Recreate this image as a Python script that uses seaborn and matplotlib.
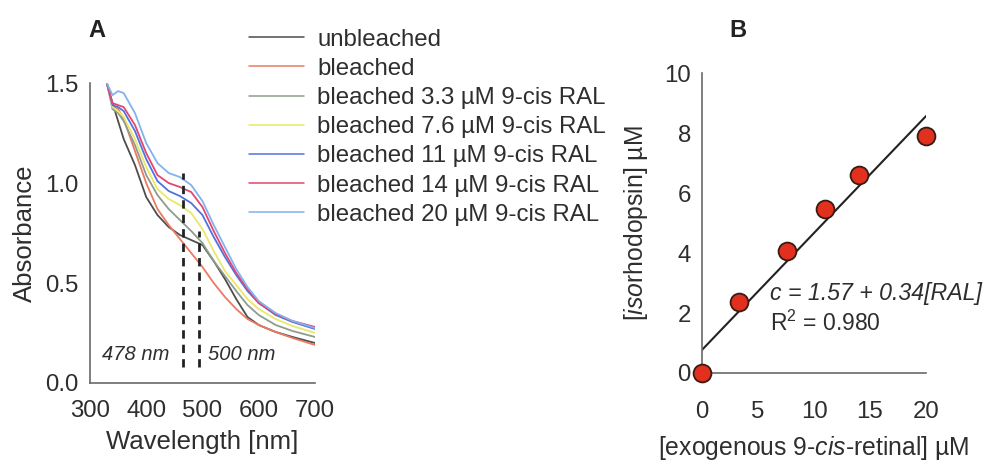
import numpy as np
import pandas as pd
import seaborn as sns
import matplotlib.pyplot as plt

# ______________________________________________________ DATA
wavelength = [330, 340, 350, 360, 380, 400, 420, 440, 460, 480, 500, 520, 540, 560, 580, 600, 630, 660, 700]

unbleached = [1.50, 1.40, 1.31, 1.22, 1.09, 0.93, 0.84, 0.78, 0.74, 0.715, 0.69, 0.61, 0.52, 0.42, 0.33, 0.29, 0.255, 0.23, 0.20]
bleached = [1.50, 1.39, 1.37, 1.32, 1.16, 1.00, 0.87, 0.79, 0.72, 0.65, 0.58, 0.50, 0.43, 0.37, 0.32, 0.29, 0.255, 0.225, 0.19]
ral_3_3 = [1.50, 1.37, 1.35, 1.31, 1.19, 1.04, 0.94, 0.87, 0.815, 0.76, 0.70, 0.61, 0.535, 0.46, 0.39, 0.34, 0.29, 0.26, 0.23]
ral_7_6 = [1.50, 1.38, 1.36, 1.33, 1.22, 1.08, 0.97, 0.92, 0.89, 0.85, 0.77, 0.66, 0.56, 0.49, 0.42, 0.37, 0.32, 0.285, 0.25]
ral_11 = [1.50, 1.39, 1.38, 1.36, 1.26, 1.12, 1.01, 0.96, 0.935, 0.90, 0.84, 0.73, 0.63, 0.54, 0.46, 0.40, 0.34, 0.305, 0.27]
ral_14 = [1.50, 1.40, 1.39, 1.38, 1.29, 1.15, 1.04, 1.00, 0.98, 0.955, 0.88, 0.76, 0.65, 0.55, 0.47, 0.40, 0.345, 0.31, 0.28]
ral_20 = [1.50, 1.44, 1.46, 1.45, 1.35, 1.20, 1.10, 1.05, 1.03, 0.99, 0.91, 0.79, 0.68, 0.57, 0.48, 0.41, 0.35, 0.31, 0.275]

labels = ['unbleached', 'bleached',
          'bleached 3.3 µM 9-cis RAL', 'bleached 7.6 µM 9-cis RAL',
          'bleached 11 µM 9-cis RAL', 'bleached 14 µM 9-cis RAL',
          'bleached 20 µM 9-cis RAL']
colors = ['#4d4d4d', '#ec7a62', '#8e9c8e', '#e9e86a', '#4f72e0', '#e2476f', '#82b2ee']

# dashed marker lines (position in picture / label)
mark_478 = [466, 0.08, 1.05]
mark_500 = [494, 0.08, 0.76]

# panel B
ral_conc = [0, 3.3, 7.6, 11, 14, 20]
iso_conc = [0, 2.37, 4.08, 5.47, 6.6, 7.9]

# ______________________________________________________ LONG FORM
spectra = pd.DataFrame({'wl': wavelength * 7,
                        'abs': unbleached + bleached + ral_3_3 + ral_7_6 + ral_11 + ral_14 + ral_20,
                        'sample': [l for l in labels for _ in wavelength]})
fit = pd.DataFrame({'ral': ral_conc, 'iso': iso_conc})

# ______________________________________________________ STYLE
sns.set_style('white')
plt.rcParams['font.family'] = ['Liberation Sans', 'DejaVu Sans']
plt.rcParams['mathtext.fontset'] = 'custom'
plt.rcParams['mathtext.rm'] = 'Liberation Sans'
plt.rcParams['mathtext.it'] = 'Liberation Sans:italic'
txt = '#2e2e2e'
spine = '#6a6a6a'

fig = plt.figure(figsize=(9.91, 4.67), dpi=100)
ax1 = fig.add_axes([0.0908, 0.18, 0.227, 0.642])
ax2 = fig.add_axes([0.7084, 0.2013, 0.226, 0.642])

# ______________________________________________________ PANEL A
sns.lineplot(data=spectra, x='wl', y='abs', hue='sample', hue_order=labels,
             palette=colors, linewidth=1.3, ax=ax1)
for m in [mark_478, mark_500]:
    ax1.plot([m[0], m[0]], [m[1], m[2]], color='#222222', ls=(0, (3, 2.2)), lw=2)
ax1.text(322, 0.14, '478 nm', style='italic', fontsize=14.5, color=txt, va='center')
ax1.text(509, 0.14, '500 nm', style='italic', fontsize=14.5, color=txt, va='center')

ax1.set_xlim(300, 700)
ax1.set_ylim(0, 1.5)
ax1.set_xticks([300, 400, 500, 600, 700])
ax1.set_yticks([0, 0.5, 1.0, 1.5])
ax1.set_yticklabels(['0.0', '0.5', '1.0', '1.5'])
ax1.set_xlabel('Wavelength [nm]', fontsize=18.5, color=txt, labelpad=6)
ax1.set_ylabel('Absorbance', fontsize=18.5, color=txt, labelpad=6)

sns.move_legend(ax1, loc='upper left', bbox_to_anchor=(0.229, 0.985),
                bbox_transform=fig.transFigure, frameon=False, title=None,
                fontsize=17.3, handlelength=2.3, handletextpad=0.55,
                labelspacing=0.3, labelcolor=txt)
for h in ax1.get_legend().get_lines():
    h.set_linewidth(1.1)

# ______________________________________________________ PANEL B
sns.regplot(data=fit, x='ral', y='iso', ci=None, ax=ax2,
            scatter_kws=dict(s=165, color='#e2301e', edgecolor='#3a1a14',
                             linewidths=1.3, alpha=1, zorder=3, clip_on=False),
            line_kws=dict(color='#222222', lw=1.5))
ax2.text(6.1, 2.45, 'c = 1.57 + 0.34[RAL]', style='italic', fontsize=16.7, color=txt)
ax2.text(6.1, 1.4, r'R$^2$ = 0.980', fontsize=16.5, color=txt)

ax2.set_xlim(0, 20)
ax2.set_ylim(0, 10)
ax2.set_xticks([0, 5, 10, 15, 20])
ax2.set_yticks([0, 2, 4, 6, 8, 10])
ax2.set_xlabel(r'[exogenous 9-$\it{cis}$-retinal] µM', fontsize=17.8, color=txt, labelpad=8)
ax2.set_ylabel(r'[$\it{iso}$rhodopsin] µM', fontsize=17.8, color=txt, labelpad=10)

for ax in [ax1, ax2]:
    sns.despine(ax=ax)
    for s in ['left', 'bottom']:
        ax.spines[s].set_color(spine)
        ax.spines[s].set_linewidth(1.2)
    ax.tick_params(axis='both', labelsize=17.3, labelcolor=txt, color=spine,
                   length=3, width=1, direction='out', pad=5)
ax1.tick_params(axis='x', pad=9)
ax2.tick_params(axis='x', pad=17)

fig.text(0.089, 0.92, 'A', fontsize=17, fontweight='bold', color='#222222')
fig.text(0.736, 0.92, 'B', fontsize=17, fontweight='bold', color='#222222')

fig.savefig('out.png', dpi=100, facecolor='white')
